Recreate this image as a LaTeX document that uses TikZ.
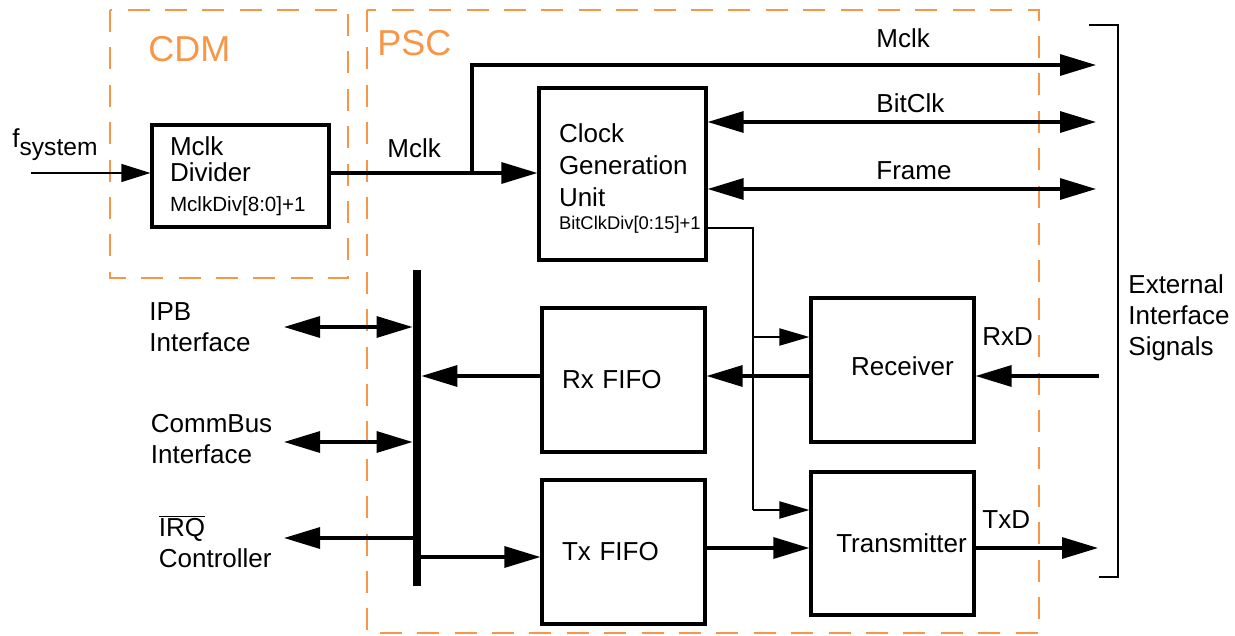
\documentclass[tikz,border=0pt]{standalone}
\usepackage{fontspec}
\setmainfont{Liberation Sans}
\usetikzlibrary{arrows.meta}
\definecolor{psborange}{RGB}{247,150,70}
\tikzset{
    bigtip/.tip={Triangle[length=18pt,width=10.5pt]},
    smalltip/.tip={Triangle[length=15pt,width=8.5pt]},
    block/.style={draw, line width=1.6pt, rectangle, inner ysep=0pt},
    sig/.style={line width=1.6pt},
    ctl/.style={line width=1pt},
    region/.style={draw=psborange, line width=0.85pt, dash pattern=on 11pt off 7.7pt},
    lbl/.style={inner sep=0pt, font=\fontsize{13}{15.5}\selectfont},
    multilbl/.style={lbl, align=left, anchor=west}
}
\newcommand{\smalltxt}{\fontsize{9.2}{10.5}\selectfont}
\begin{document}
\begin{tikzpicture}[x=0.5pt, y=-0.5pt]
    \useasboundingbox (0,0) rectangle (1235,636);
    % clock domain and PSC regions
    \draw[region] (110,10) rectangle (348,278);
    \draw[region] (367,10) rectangle (1039,633);
    \node[lbl, anchor=base west, text=psborange, font=\fontsize{18}{20}\selectfont] (cdmlbl) at (148,62) {CDM};
    \node[lbl, anchor=base west, text=psborange, font=\fontsize{18}{20}\selectfont] (psclbl) at (377,56) {PSC};

    % blocks
    \node[block, minimum width=88.5pt, minimum height=51pt, inner xsep=9pt, text width=70.5pt, align=left,
          font=\fontsize{13}{13}\selectfont] (mdiv) at (240.5,176)
          {Mclk\\Divider\\[2pt]{\fontsize{10.3}{12}\selectfont MclkDiv[8:0]+1}};
    \node[block, minimum width=83.5pt, minimum height=86pt, inner xsep=10pt, text width=63.5pt, align=left,
          font=\fontsize{13}{16}\selectfont] (cgu) at (622.5,174)
          {\rule{0pt}{13.5pt}Clock\\Generation\\Unit\\[-4.5pt]{\smalltxt BitClkDiv[0:15]+1}};
    \node[block, minimum width=81.5pt, minimum height=72pt, inner xsep=10pt, text width=61.5pt, align=left,
          font=\fontsize{13}{15}\selectfont] (rxf) at (623.5,380) {Rx FIFO};
    \node[block, minimum width=81.5pt, minimum height=72pt, inner xsep=10pt, text width=61.5pt, align=left,
          font=\fontsize{13}{15}\selectfont] (txf) at (623.5,552) {Tx FIFO};
    \node[block, minimum width=81.5pt, minimum height=72pt, font=\fontsize{13}{15}\selectfont] (rcv) at (892.5,370) {\hspace*{10pt}\rule[-4pt]{0pt}{4pt}Receiver};
    \node[block, minimum width=81.5pt, minimum height=71.5pt, font=\fontsize{13}{15}\selectfont] (tx) at (892.5,543.5) {\hspace*{9pt}Transmitter};
    \node[fill=black, inner sep=0pt, minimum width=4pt, minimum height=158pt] (bus) at (417,428) {};

    % end points of the connectors
    \coordinate (fin) at (31,173);
    \coordinate (mj) at (472,173);
    \coordinate (extMclk) at (1096,65);
    \coordinate (extBit) at (1096,122);
    \coordinate (extFrame) at (1096,189);
    \coordinate (rxd) at (1099,376);
    \coordinate (txd) at (1098,548);
    \coordinate (bcd) at (753,228);
    \coordinate (bcdr) at (753,337);
    \coordinate (bcdt) at (753,510);
    \coordinate (ipb) at (284,327);
    \coordinate (cbus) at (284,442);
    \coordinate (irq) at (284,538);
    \coordinate (txin) at (420,557);
    \coordinate (txout) at (705,548);

    % clocks
    \draw[line width=0.6pt, -{Triangle[length=14.5pt,width=9pt]}] (fin) -- (fin -| mdiv.west);
    \draw[sig, -bigtip] (mdiv.east |- mj) -- (mj -| cgu.west);
    \draw[sig, -bigtip] (mj) |- (extMclk);
    \draw[sig, bigtip-bigtip] (cgu.east |- extBit) -- (extBit);
    \draw[sig, bigtip-bigtip] (cgu.east |- extFrame) -- (extFrame);
    \draw[ctl] (cgu.east |- bcd) -- (bcd) -- (bcdt);
    \draw[ctl, -smalltip] (bcdr) -- (bcdr -| rcv.west);
    \draw[ctl, -smalltip] (bcdt) -- (bcdt -| tx.west);

    % data path
    \draw[sig, -bigtip] (rxd) -- (rcv.east |- rxd);
    \draw[sig, -bigtip] (rcv.west |- rxd) -- (rxf.east |- rxd);
    \draw[sig, -bigtip] (rxf.west |- rxd) -- (bus.east |- rxd);
    \draw[sig, -bigtip] (txin) -- (txf.west |- txin);
    \draw[sig, -bigtip] (txout) -- (tx.west |- txout);
    \draw[sig, -bigtip] (tx.east |- txd) -- (txd);

    % bus side
    \draw[sig, bigtip-bigtip] (ipb) -- (bus.west |- ipb);
    \draw[sig, bigtip-bigtip] (cbus) -- (bus.west |- cbus);
    \draw[sig, bigtip-] (irq) -- (bus.west |- irq);

    % external interface bracket
    \draw[ctl] (1089,25.5) -- (1117.5,25.5) -- (1117.5,577) -- (1099,577);

    % labels
    \node[lbl, anchor=base west] (lfsys) at (12,148) {f\raisebox{-4pt}{\fontsize{12.3}{14}\selectfont system}};
    \node[lbl, anchor=base west] (lmclk) at (387,158) {Mclk};
    \node[lbl, anchor=base west] (lmclkout) at (876,48) {Mclk};
    \node[lbl, anchor=base west] (lbitclk) at (876,112.5) {BitClk};
    \node[lbl, anchor=base west] (lframe) at (876,180) {Frame};
    \node[lbl, anchor=base west] (lrxd) at (982,345.5) {RxD};
    \node[lbl, anchor=base west] (ltxd) at (982,528) {TxD};
    \node[multilbl] (lext) at (1128,318) {External\\Interface\\Signals};
    \node[multilbl] (lipb) at (149,327) {IPB\\Interface};
    \node[multilbl] (lcbus) at (150.5,439) {CommBus\\Interface};
    \node[multilbl] (lirq) at (158.5,541.5) {$\overline{\mbox{IRQ}}$\\Controller};
\end{tikzpicture}
\end{document}
